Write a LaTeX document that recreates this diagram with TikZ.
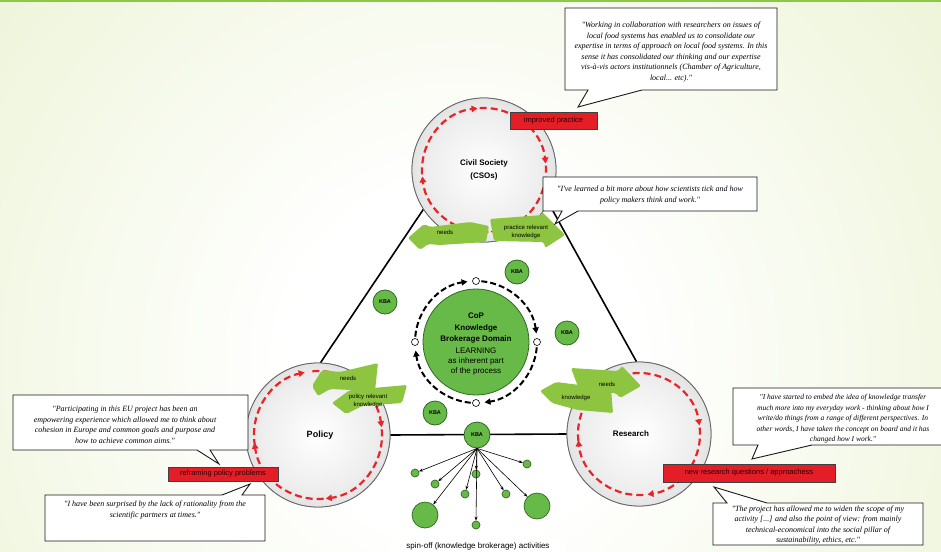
\documentclass[tikz,border=0pt]{standalone}
\usepackage{fontspec}
\setmainfont{Liberation Sans}
\newfontfamily\quotefont{Liberation Serif}
\usetikzlibrary{arrows.meta}
\definecolor{bgW}{RGB}{240,246,222}
\definecolor{bgA}{RGB}{222,236,188}
\definecolor{bgB}{RGB}{200,225,158}
\definecolor{topGreen}{RGB}{140,200,70}
\definecolor{loopRed}{RGB}{232,36,40}
\definecolor{labelRed}{RGB}{228,30,38}
\definecolor{kbaGreen}{RGB}{104,186,72}
\definecolor{kbaEdge}{RGB}{45,105,35}
\definecolor{blobGreen}{RGB}{141,196,64}
\pgfdeclareradialshading{bgshade}{\pgfpoint{0bp}{0bp}}{color(0bp)=(white); color(7bp)=(white); color(22bp)=(bgW); color(36bp)=(bgA); color(50bp)=(bgB)}
\pgfdeclareradialshading{ballshade}{\pgfpoint{0bp}{0bp}}{color(0bp)=(white); color(20bp)=(white!93!black); color(40bp)=(black!22); color(50bp)=(black!36)}
\tikzset{
  ball/.style={circle, minimum size=144pt, inner sep=0pt, shading=ballshade, draw=black!60, line width=0.8pt, font=\bfseries\fontsize{8}{13}\selectfont, align=center},
  redloop/.style={draw=loopRed, line width=2.2pt, dash pattern=on 7pt off 4pt, -{Triangle[length=6pt,width=6.5pt]}},
  ringseg/.style={draw=black, line width=2pt, dash pattern=on 6pt off 3pt, -{Triangle[length=6pt,width=6pt]}},
  ringdot/.style={circle, fill=white, draw=black, line width=0.6pt, minimum size=7pt, inner sep=0pt},
  kba/.style={circle, fill=kbaGreen, draw=kbaEdge, line width=0.8pt, minimum size=24pt, inner sep=0pt, font=\bfseries\fontsize{5.5}{6}\selectfont},
  spin/.style={circle, fill=kbaGreen, draw=kbaEdge, line width=0.7pt, minimum size=8pt, inner sep=0pt},
  spinbig/.style={circle, fill=kbaGreen, draw=kbaEdge, line width=0.7pt, minimum size=26pt, inner sep=0pt},
  spinarrow/.style={draw=black, line width=0.6pt, -{Stealth[length=4pt,width=3pt]}},
  blob/.style={fill=blobGreen, draw=none, rounded corners=2pt},
  blobtext/.style={font=\fontsize{6}{7.5}\selectfont, align=center, inner sep=0pt},
  redlabel/.style={fill=labelRed, draw=black!75, line width=0.5pt, inner sep=0pt, font=\fontsize{7.5}{9}\selectfont, text=black!85!red},
  bubble/.style={draw=black!90, fill=white, line width=0.9pt},
  quote/.style={font=\quotefont\itshape\fontsize{8}{10.5}\selectfont, align=center, inner sep=0pt},
  tri/.style={draw=black, line width=1.6pt}
}
\begin{document}
\begin{tikzpicture}[x=1pt,y=1pt]
\useasboundingbox (0,0) rectangle (941,-551);
% background
\begin{scope}
\clip (0,0) rectangle (941,-551);
\fill[bgB] (0,0) rectangle (941,-551);
\shade[shading=bgshade] (460,-360) circle (620);
\fill[topGreen] (0,0) rectangle (941,-2.5);
\end{scope}

% triangle connectors (behind circles)
\coordinate (csc) at (484,-170);
\coordinate (polc) at (318,-435);
\coordinate (resc) at (639,-434);
\node[ball] (cs) at (csc) {};
\node[ball] (pol) at (polc) {};
\node[ball] (res) at (resc) {};
\draw[tri] (cs.213) -- (pol.88);
\draw[tri] (cs.-27) -- (res.92);
\draw[tri] (pol.east) -- (res.west);

% circles on top
\node[ball] (cs2) at (csc) {Civil Society\\(CSOs)};
\node[ball, font=\bfseries\fontsize{9}{11}\selectfont] (pol2) at (polc) {\hspace*{4pt}Policy};
\node[ball, font=\bfseries\fontsize{8}{10}\selectfont] (res2) at (resc) {Research\hspace*{16pt}};

% red dashed loops
\foreach \e in {96,6,-84,-174}
  \draw[redloop] (csc) ++({\e+88}:62) arc[start angle={\e+88}, end angle=\e, radius=62];
\foreach \e in {102,7,-83,-173}
  \draw[redloop] (polc) ++({\e+88}:64) arc[start angle={\e+88}, end angle=\e, radius=64];
\foreach \e in {99,8,-82,-174}
  \draw[redloop] (resc) ++({\e+88}:61) arc[start angle={\e+88}, end angle=\e, radius=61];

% central domain
\coordinate (cc) at (476,-342);
\node[circle, fill=kbaGreen, draw=kbaEdge, line width=0.8pt, minimum size=106pt, inner sep=0pt] (cop) at (cc) {};
\node[align=center, inner sep=0pt, font=\fontsize{8}{11.5}\selectfont] (coptext) at (476,-344)
  {\textbf{CoP}\\\textbf{Knowledge}\\\textbf{Brokerage Domain}\\LEARNING\\[-1.5pt]as inherent part\\[-1.5pt]of the process};
\foreach \c in {90,0,-90,-180}
  \draw[ringseg] (cc) ++({\c+85}:61) arc[start angle={\c+85}, end angle={\c+8}, radius=61];
\node[ringdot] (d1) at (476,-281) {};
\node[ringdot] (d2) at (537,-342) {};
\node[ringdot] (d3) at (476,-403) {};
\node[ringdot] (d4) at (415,-342) {};

% KBA nodes
\node[kba] (k1) at (517,-272) {KBA};
\node[kba] (k2) at (385,-302) {KBA};
\node[kba] (k3) at (567,-333) {KBA};
\node[kba] (k4) at (435,-413) {KBA};
\node[kba, minimum size=26pt] (k5) at (477,-435) {KBA};

% spin-off activities
\node[spin] (s1) at (415,-473) {};
\node[spin] (s2) at (435,-484) {};
\node[spin] (s3) at (465,-494) {};
\node[spin] (s4) at (476,-474) {};
\node[spin] (s5) at (476,-525) {};
\node[spin] (s6) at (506,-494) {};
\node[spin] (s7) at (527,-464) {};
\node[spinbig] (b1) at (425,-515) {};
\node[spinbig] (b2) at (537,-506) {};
\foreach \t in {s1,s2,s3,s4,s6,s7,b1,b2}
  \draw[spinarrow] (k5.south) -- (\t);
\draw[spinarrow] (k5.south) -- (s5.north);
\node[fill=white, inner sep=0pt, minimum width=176pt, minimum height=11pt, font=\fontsize{8}{9}\selectfont] (spinlab) at (478,-546) {spin-off (knowledge brokerage) activities};

% green blob arrows - Civil Society
\fill[blob] (408,-238) -- (424,-224) -- (430,-227) -- (470,-222) -- (489,-226) -- (486,-242) -- (440,-245) -- (428,-244) -- (420,-250) -- cycle;
\fill[blob] (490,-219) -- (543,-215) -- (541,-211) -- (565,-235) -- (545,-248) -- (544,-242) -- (494,-241) -- cycle;
\node[blobtext] (csn) at (445,-232) {needs};
\node[blobtext] (csk) at (526,-232) {practice relevant\\knowledge};
% Policy
\fill[blob] (312,-386) -- (322,-370) -- (340,-372) -- (378,-363) -- (375,-391) -- (330,-389) -- (318,-396) -- cycle;
\fill[blob] (332,-403) -- (350,-390) -- (407,-385) -- (402,-403) -- (362,-406) -- (346,-414) -- cycle;
\node[blobtext] (pn) at (348,-378) {needs};
\node[blobtext] (pk) at (368,-401) {policy relevant\\knowledge};
% Research
\fill[blob] (540,-391) -- (556,-382) -- (611,-389) -- (613,-413) -- (578,-410) -- (552,-403) -- cycle;
\fill[blob] (571,-368) -- (618,-371) -- (622,-366) -- (641,-386) -- (620,-398) -- (616,-393) -- (580,-392) -- cycle;
\node[blobtext] (rk) at (576,-398) {knowledge};
\node[blobtext] (rn) at (607,-384) {needs};

% quote bubbles
\draw[bubble] (565,-8) -- (777,-8) -- (777,-90) -- (642,-90) -- (578,-107) -- (588,-90) -- (565,-90) -- cycle;
\node[quote] (q1) at (671,-52) {"Working in collaboration with researchers on issues of\\local food systems has enabled us to consolidate our\\expertise in terms of approach on local food systems. In this\\sense it has consolidated our thinking and our expertise\\vis-à-vis actors institutionnels (Chamber of Agriculture,\\local... etc)."};

\draw[bubble] (543,-177) -- (757,-177) -- (757,-211) -- (578,-211) -- (555,-224) -- (562,-211) -- (543,-211) -- cycle;
\node[quote] (q2) at (650,-195) {"I've learned a bit more about how scientists tick and how\\policy makers think and work."};

\draw[bubble] (13,-395) -- (248,-395) -- (248,-450) -- (210,-450) -- (219,-464) -- (197,-450) -- (13,-450) -- cycle;
\node[quote] (q3) at (125,-425) {"Participating in this EU project has been an\\empowering experience which allowed me to think about\\cohesion in Europe and common goals and purpose and\\how to achieve common aims."};

\draw[bubble] (733,-388) -- (960,-388) -- (960,-445) -- (812,-445) -- (752,-459) -- (758,-445) -- (733,-445) -- cycle;
\node[quote, font=\quotefont\itshape\fontsize{7.5}{10.5}\selectfont] (q4) at (843,-419) {"I have started to embed the idea of knowledge transfer\\much more into my everyday work - thinking about how I\\write/do things from a range of different perspectives. In\\other words, I have taken the concept on board and it has\\changed how I work."};

\draw[bubble] (45,-495) -- (222,-495) -- (250,-484) -- (242,-495) -- (265,-495) -- (265,-541) -- (45,-541) -- cycle;
\node[quote] (q5) at (155,-510) {"I have been surprised by the lack of rationality from the\\scientific partners at times."};

\draw[bubble] (713,-503) -- (727,-503) -- (714,-487) -- (767,-503) -- (923,-503) -- (923,-545) -- (713,-545) -- cycle;
\node[quote] (q6) at (818,-525) {"The project has allowed me to widen the scope of my\\activity [...] and also the point of view: from mainly\\technical-economical into the social pillar of\\sustainability, ethics, etc."};

% red labels
\node[redlabel, minimum width=87pt, minimum height=17pt] (l1) at (553.5,-120.5) {improved practice};
\node[redlabel, minimum width=110pt, minimum height=14pt] (l2) at (223,-474) {reframing policy problems};
\node[redlabel, minimum width=172pt, minimum height=18pt] (l3) at (749,-473) {new research questions / approachess};
\end{tikzpicture}
\end{document}
